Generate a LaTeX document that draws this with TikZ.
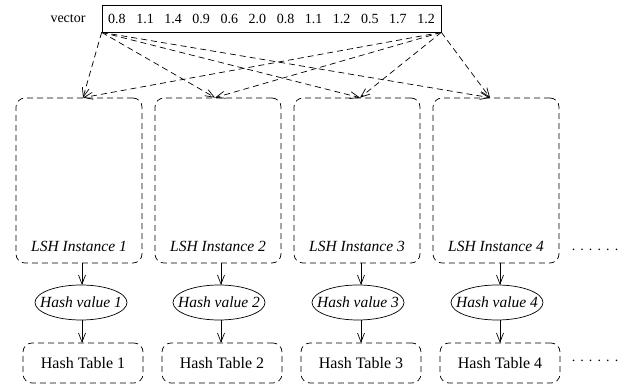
\documentclass[tikz,border=0pt]{standalone}
\usepackage{fontspec}
\setmainfont{Liberation Serif}
\usetikzlibrary{arrows.meta,shapes.geometric,calc}
\newcommand{\sixdots}{.\hspace{5.1pt}.\hspace{5.1pt}.\hspace{5.1pt}.\hspace{5.1pt}.\hspace{5.1pt}.}
\begin{document}
\begin{tikzpicture}[x=1pt,y=-1pt,line width=0.7pt,
 dsh/.style={dash pattern=on 6pt off 4pt},
 lshbox/.style={draw,dsh,rounded corners=9pt,minimum width=126pt,minimum height=165pt,inner sep=0pt},
 lbl/.style={inner sep=0pt,font=\fontsize{15.5}{18}\selectfont\itshape},
 hvnode/.style={draw,ellipse,minimum width=92pt,minimum height=35pt,inner xsep=-10pt,inner ysep=0pt,font=\fontsize{15.5}{18}\selectfont\itshape},
 htbox/.style={draw,dsh,rounded corners=9pt,minimum width=120pt,minimum height=40pt,inner sep=0pt,font=\fontsize{16}{19}\selectfont},
 arr/.style={-{Straight Barb[length=9pt,width=7pt]}},
 darr/.style={arr,dsh},
 dotstxt/.style={inner sep=0pt,font=\fontsize{14}{16}\selectfont}]
\useasboundingbox (0,0) rectangle (637,390);

% vector
\node[draw,minimum width=339pt,minimum height=27pt,inner sep=0pt,font=\fontsize{14}{16}\selectfont] (vec) at (271.5,18.5)
 {0.8\hspace{10.6pt}1.1\hspace{10.6pt}1.4\hspace{10.6pt}0.9\hspace{10.6pt}0.6\hspace{10.6pt}2.0\hspace{10.6pt}0.8\hspace{10.6pt}1.1\hspace{10.6pt}1.2\hspace{10.6pt}0.5\hspace{10.6pt}1.7\hspace{10.6pt}1.2};
\node[inner sep=0pt,font=\fontsize{14}{16}\selectfont] (veclbl) at (68,19) {vector};

% LSH instance boxes
\node[lshbox] (lsh1) at (79,180.5) {};
\node[lshbox] (lsh2) at (218,180.5) {};
\node[lshbox] (lsh3) at (357,180.5) {};
\node[lshbox] (lsh4) at (496,180.5) {};
\node[lbl] (l1) at (79,246) {LSH Instance 1};
\node[lbl] (l2) at (218,246) {LSH Instance 2};
\node[lbl] (l3) at (357,246) {LSH Instance 3};
\node[lbl] (l4) at (496,246) {LSH Instance 4};
\node[dotstxt] (d1) at (595,250) {\sixdots};

% hash values
\node[hvnode] (hv1) at (81,302.5) {Hash value 1};
\node[hvnode] (hv2) at (219,302.5) {Hash value 2};
\node[hvnode] (hv3) at (358,302.5) {Hash value 3};
\node[hvnode] (hv4) at (497,302.5) {Hash value 4};

% hash tables
\node[htbox] (ht1) at (83,363) {Hash Table 1};
\node[htbox] (ht2) at (222,363) {Hash Table 2};
\node[htbox] (ht3) at (361,363) {Hash Table 3};
\node[htbox] (ht4) at (500,363) {Hash Table 4};
\node[dotstxt] (d2) at (595,361) {\sixdots};

% arrow targets on top of instance boxes
\coordinate (t1) at ($(lsh1.north)+(4,0)$);
\coordinate (t2) at ($(lsh2.north)+(-3,0)$);
\coordinate (t3) at ($(lsh3.north)+(3,0)$);
\coordinate (t4) at ($(lsh4.north)+(-6,0)$);

\foreach \i in {1,2,3,4}{
  \draw[darr] (vec.south west) -- (t\i);
  \draw[darr] (vec.south east) -- (t\i);
}

% vertical arrows
\foreach \i/\x in {1/82,2/221,3/361,4/500}{
  \draw[arr] (\x,263) -- (\x,285);
  \draw[arr] (\x,320) -- (\x,343);
}
\end{tikzpicture}
\end{document}
